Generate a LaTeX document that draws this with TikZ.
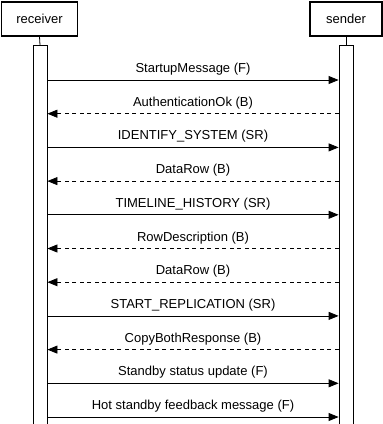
\documentclass[tikz,border=0pt]{standalone}
\usepackage{fontspec}
\setmainfont{Liberation Sans}
\usetikzlibrary{arrows.meta}

\tikzset{
  actor/.style={draw,line width=1.4pt,minimum width=76pt,minimum height=34pt,inner sep=0pt},
  lifebar/.style={draw,line width=0.8pt,minimum width=14pt,minimum height=390pt,inner sep=0pt,anchor=north},
  msg/.style={line width=0.8pt,-{Triangle[length=10pt,width=8pt]}},
  reply/.style={msg,dash pattern=on 4pt off 3.5pt},
  lbl/.style={above,pos=.5,yshift=1pt}
}

\begin{document}
\begin{tikzpicture}[x=1pt,y=-1pt,font=\fontsize{13}{15}\selectfont]
        \useasboundingbox (0,0) rectangle (383,424);
        \clip (0,0) rectangle (383,424);

        \draw (39.5,19) node[actor] (receiver) {receiver};
        \draw (346,19) node[actor,minimum width=72pt] (sender) {sender};
        \draw (40,45) node[lifebar] (rbar) {};
        \draw (346,45) node[lifebar] (sbar) {};
        \draw[line width=0.8pt] (receiver.south) -- (rbar.north);
        \draw[line width=0.8pt] (sender.south) -- (sbar.north);

        \foreach \i/\y in {1/80,2/113.7,3/147.4,4/181.1,5/214.8,6/248.5,
                           7/282.2,8/315.9,9/349.6,10/383.3,11/417} {
          \path (rbar.east |- 0,\y) coordinate (r\i);
          \path (sbar.west |- 0,\y) coordinate (s\i);
        }

        \draw[msg] (r1) -- (s1) node[lbl] {StartupMessage (F)};
        \draw[reply] (s2) -- (r2) node[lbl] {AuthenticationOk (B)};
        \draw[msg] (r3) -- (s3) node[lbl] {IDENTIFY\_SYSTEM (SR)};
        \draw[reply] (s4) -- (r4) node[lbl] {DataRow (B)};
        \draw[msg] (r5) -- (s5) node[lbl] {TIMELINE\_HISTORY (SR)};
        \draw[reply] (s6) -- (r6) node[lbl] {RowDescription (B)};
        \draw[reply] (s7) -- (r7) node[lbl] {DataRow (B)};
        \draw[msg] (r8) -- (s8) node[lbl] {START\_REPLICATION (SR)};
        \draw[reply] (s9) -- (r9) node[lbl] {CopyBothResponse (B)};
        \draw[msg] (r10) -- (s10) node[lbl] {Standby status update (F)};
        \draw[msg] (r11) -- (s11) node[lbl] {Hot standby feedback message (F)};
\end{tikzpicture}
\end{document}
